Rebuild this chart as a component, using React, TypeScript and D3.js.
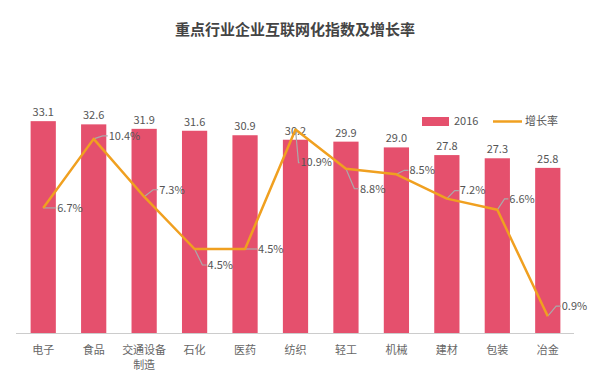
import React, { useRef, useEffect } from 'react';
import * as d3 from 'd3';

const categories = ['电子', '食品', '交通设备制造', '石化', '医药', '纺织', '轻工', '机械', '建材', '包装', '冶金'];
const index2016 = [33.1, 32.6, 31.9, 31.6, 30.9, 30.2, 29.9, 29.0, 27.8, 27.3, 25.8];
const growthRate = [6.7, 10.4, 7.3, 4.5, 4.5, 10.9, 8.8, 8.5, 7.2, 6.6, 0.9];

// label placement for the growth labels (offset from the point, px)
const labelOffsets: [number, number][] = [
    [14, 0], [15, -3], [15, -7], [13, 16], [13, 0], [5, 33],
    [14, 20], [13, -4], [13, -8], [12, -11], [14, -10],
];

const W = 600;
const H = 372;
const barColor = '#e5506d';
const lineColor = '#f0a020';

const App: React.FC = () => {
    const svgRef = useRef<SVGSVGElement>(null);

    useEffect(() => {
        if (!svgRef.current) return;
        const svg = d3.select(svgRef.current);
        svg.selectAll('*').remove();

        const x = d3.scaleBand<string>()
            .domain(categories)
            .range([18, 573])
            .paddingInner(0.5)
            .paddingOuter(0.25);
        const yBar = d3.scaleLinear().domain([0, 35]).range([333, 109]);
        const yLine = d3.scaleLinear().domain([0, 12]).range([333, 109]);
        const cx = (c: string) => (x(c) ?? 0) + x.bandwidth() / 2;

        const font = '"Microsoft YaHei", "Noto Sans CJK SC", "Noto Sans", sans-serif';

        // title
        svg.append('text')
            .attr('x', 295)
            .attr('y', 30)
            .attr('dy', '0.35em')
            .attr('text-anchor', 'middle')
            .attr('font-family', font)
            .attr('font-size', 15)
            .attr('font-weight', 'bold')
            .attr('fill', '#444')
            .text('重点行业企业互联网化指数及增长率');

        // bars
        svg.append('g').selectAll('rect')
            .data(categories)
            .join('rect')
            .attr('x', d => x(d) ?? 0)
            .attr('y', (d, i) => yBar(index2016[i]))
            .attr('width', x.bandwidth())
            .attr('height', (d, i) => yBar(0) - yBar(index2016[i]))
            .attr('fill', barColor);

        svg.append('g').selectAll('text')
            .data(categories)
            .join('text')
            .attr('x', d => cx(d))
            .attr('y', (d, i) => yBar(index2016[i]) - 5)
            .attr('text-anchor', 'middle')
            .attr('font-family', font)
            .attr('font-size', 11)
            .attr('fill', '#555')
            .text((d, i) => index2016[i].toFixed(1));

        // axis line
        svg.append('line')
            .attr('x1', 16).attr('x2', 574)
            .attr('y1', yBar(0) + 0.5).attr('y2', yBar(0) + 0.5)
            .attr('stroke', '#ccc')
            .attr('stroke-width', 1);

        // category labels (long names wrap after four characters)
        const catG = svg.append('g');
        categories.forEach(c => {
            const lines = c.length > 4 ? [c.slice(0, 4), c.slice(4)] : [c];
            lines.forEach((s, k) => {
                catG.append('text')
                    .attr('x', cx(c))
                    .attr('y', 350 + k * 15)
                    .attr('dy', '0.35em')
                    .attr('text-anchor', 'middle')
                    .attr('font-family', font)
                    .attr('font-size', 11)
                    .attr('fill', '#666')
                    .text(s);
            });
        });

        // growth line
        const pts: [number, number][] = categories.map((c, i) => [cx(c), yLine(growthRate[i])]);

        // leader lines + labels
        const lblG = svg.append('g');
        pts.forEach(([px, py], i) => {
            const [dx, dy] = labelOffsets[i];
            lblG.append('polyline')
                .attr('points', `${px},${py} ${px + dx * 0.6},${py + dy} ${px + dx - 1},${py + dy}`)
                .attr('fill', 'none')
                .attr('stroke', '#aaa')
                .attr('stroke-width', 1.2);
        });

        svg.append('path')
            .datum(pts)
            .attr('d', d3.line())
            .attr('fill', 'none')
            .attr('stroke', lineColor)
            .attr('stroke-width', 2.5)
            .attr('stroke-linejoin', 'round');

        pts.forEach(([px, py], i) => {
            const [dx, dy] = labelOffsets[i];
            lblG.append('text')
                .attr('x', px + dx)
                .attr('y', py + dy)
                .attr('dy', '0.35em')
                .attr('font-family', font)
                .attr('font-size', 11)
                .attr('fill', '#555')
                .text(growthRate[i].toFixed(1) + '%');
        });

        // legend
        const lg = svg.append('g');
        lg.append('rect').attr('x', 422).attr('y', 117).attr('width', 27).attr('height', 9).attr('fill', barColor);
        lg.append('text').attr('x', 454).attr('y', 121.5).attr('dy', '0.35em')
            .attr('font-family', font).attr('font-size', 11).attr('fill', '#555').text('2016');
        lg.append('line').attr('x1', 493).attr('x2', 522).attr('y1', 121.5).attr('y2', 121.5)
            .attr('stroke', lineColor).attr('stroke-width', 2.5);
        lg.append('text').attr('x', 525).attr('y', 121.5).attr('dy', '0.35em')
            .attr('font-family', font).attr('font-size', 11).attr('fill', '#555').text('增长率');
    }, []);

    return (
        <svg
            ref={svgRef}
            width={W}
            height={H}
            style={{ position: 'absolute', left: 0, top: 0, background: '#fff' }}
        />
    );
};

export default App;
